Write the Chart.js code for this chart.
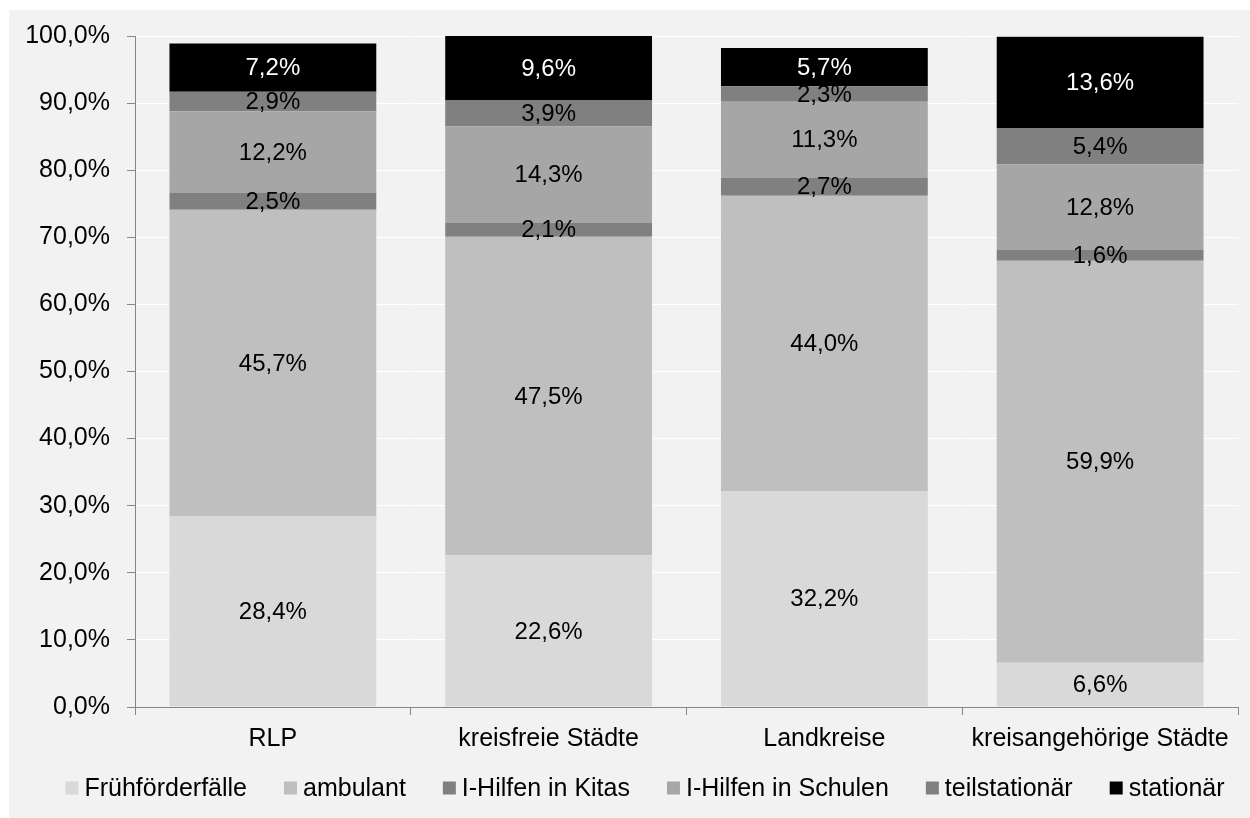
<!DOCTYPE html>
<html>
<head>
<meta charset="utf-8">
<script src="https://cdn.jsdelivr.net/npm/chart.js@4.4.1/dist/chart.umd.min.js"></script>
<style>
  html, body { margin: 0; padding: 0; background: #ffffff; }
  canvas { display: block; }
</style>
</head>
<body>
<canvas id="c" width="1250" height="818"></canvas>
<script>
const categories = ["RLP", "kreisfreie Städte", "Landkreise", "kreisangehörige Städte"];
const seriesNames = ["Frühförderfälle", "ambulant", "I-Hilfen in Kitas", "I-Hilfen in Schulen", "teilstationär", "stationär"];
const fruehfoerderfaelle = [28.4, 22.6, 32.2, 6.6];
const ambulant = [45.7, 47.5, 44.0, 59.9];
const iHilfenKitas = [2.5, 2.1, 2.7, 1.6];
const iHilfenSchulen = [12.2, 14.3, 11.3, 12.8];
const teilstationaer = [2.9, 3.9, 2.3, 5.4];
const stationaer = [7.2, 9.6, 5.7, 13.6];
const yTicks = [0, 10, 20, 30, 40, 50, 60, 70, 80, 90, 100];

const seriesValues = [fruehfoerderfaelle, ambulant, iHilfenKitas, iHilfenSchulen, teilstationaer, stationaer];
const seriesColors = ["#d9d9d9", "#bfbfbf", "#808080", "#a6a6a6", "#808080", "#000000"];
const labelColors = ["#000", "#000", "#000", "#000", "#000", "#fff"];

const FONT = "'Liberation Sans', Arial, sans-serif";
const fmt = v => v.toFixed(1).replace('.', ',') + '%';

const bgPlugin = {
  id: 'bg',
  beforeDraw(chart) {
    const ctx = chart.ctx;
    ctx.save();
    ctx.fillStyle = '#ffffff';
    ctx.fillRect(0, 0, chart.width, chart.height);
    ctx.fillStyle = '#f2f2f2';
    ctx.fillRect(9, 10, chart.width - 9, chart.height - 10);
    ctx.restore();
  }
};

const labelPlugin = {
  id: 'segLabels',
  afterDatasetsDraw(chart) {
    const ctx = chart.ctx;
    ctx.save();
    ctx.font = "24px " + FONT;
    ctx.textAlign = 'center';
    ctx.textBaseline = 'middle';
    chart.data.datasets.forEach((ds, di) => {
      const meta = chart.getDatasetMeta(di);
      meta.data.forEach((el, i) => {
        const v = ds.data[i];
        const yc = (el.y + el.base) / 2;
        ctx.fillStyle = labelColors[di];
        ctx.fillText(fmt(v), el.x, yc + 1);
      });
    });
    ctx.restore();
  }
};

const legendPlugin = {
  id: 'customLegend',
  afterDraw(chart) {
    const ctx = chart.ctx;
    ctx.save();
    ctx.font = "25px " + FONT;
    ctx.textBaseline = 'middle';
    const box = 13, gapText = 6, gapItem = 37;
    const widths = chart.data.datasets.map(d => ctx.measureText(d.label).width);
    let total = widths.reduce((a, b) => a + b, 0) + widths.length * (box + gapText) + (widths.length - 1) * gapItem;
    let x = 645 - total / 2;
    const y = 788;
    chart.data.datasets.forEach((d, i) => {
      ctx.fillStyle = d.backgroundColor;
      ctx.fillRect(x, y - box / 2, box, box);
      ctx.fillStyle = '#000';
      ctx.fillText(d.label, x + box + gapText, y + 1);
      x += box + gapText + widths[i] + gapItem;
    });
    ctx.restore();
  }
};

new Chart(document.getElementById('c'), {
  type: 'bar',
  data: {
    labels: categories,
    datasets: seriesNames.map((name, i) => ({
      label: name,
      data: seriesValues[i],
      backgroundColor: seriesColors[i],
      borderWidth: 0,
      categoryPercentage: 0.75,
      barPercentage: 1.0
    }))
  },
  options: {
    responsive: false,
    animation: false,
    layout: { padding: { left: 9, top: 36, right: 12, bottom: 0 } },
    plugins: {
      legend: { display: false },
      tooltip: { enabled: false }
    },
    scales: {
      x: {
        stacked: true,
        grid: {
          offset: true,
          drawOnChartArea: false,
          drawTicks: true,
          tickLength: 8,
          tickColor: '#868686',
          tickWidth: 1
        },
        border: { color: '#868686', width: 1 },
        ticks: {
          color: '#000',
          font: { family: FONT, size: 25 },
          padding: 9,
          maxRotation: 0,
          autoSkip: false
        },
        afterFit(scale) { scale.height = 111; }
      },
      y: {
        stacked: true,
        min: 0,
        max: 100,
        afterBuildTicks(scale) { scale.ticks = yTicks.map(v => ({ value: v })); },
        grid: {
          color: '#ffffff',
          lineWidth: 1,
          drawTicks: true,
          tickLength: 8,
          tickColor: '#868686'
        },
        border: { color: '#868686', width: 1 },
        ticks: {
          color: '#000',
          font: { family: FONT, size: 25 },
          padding: 17,
          callback: v => fmt(v)
        },
        afterFit(scale) { scale.width = 126; }
      }
    }
  },
  plugins: [bgPlugin, labelPlugin, legendPlugin]
});
</script>
</body>
</html>
